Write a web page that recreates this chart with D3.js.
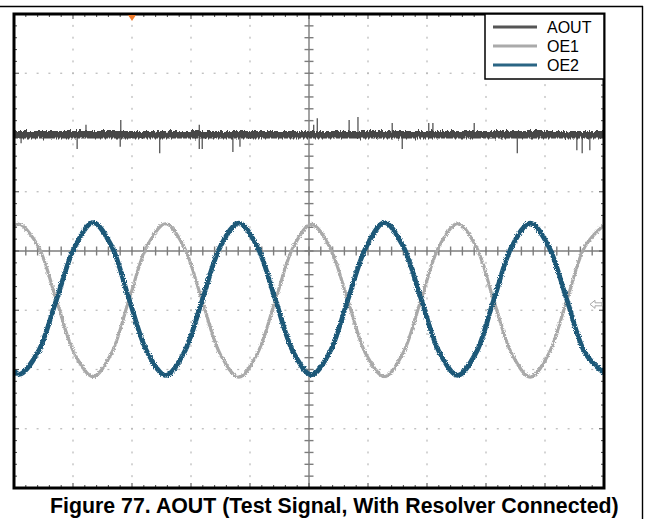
<!DOCTYPE html>
<html>
<head>
<meta charset="utf-8">
<script src="https://cdn.jsdelivr.net/npm/d3@7/dist/d3.min.js"></script>
<style>
  html, body { margin: 0; padding: 0; background: #fff; }
  svg { display: block; }
</style>
</head>
<body>
<svg id="chart" width="648" height="519"></svg>
<script>
// Screen units are scope divisions: 10 horizontal, 8 vertical (centre = 0).
const xDivisions = [0, 1, 2, 3, 4, 5, 6, 7, 8, 9, 10];
const yDivisions = [-4, -3, -2, -1, 0, 1, 2, 3, 4];

// Sample times (div) for the two resolver excitation outputs
const sampleTime = [0.00, 0.10, 0.41, 0.72, 1.03, 1.34, 1.65, 1.95, 2.26, 2.57, 2.88,
  3.19, 3.50, 3.81, 4.12, 4.43, 4.74, 5.04, 5.35, 5.66, 5.97, 6.28, 6.59, 6.90,
  7.21, 7.52, 7.83, 8.13, 8.44, 8.75, 9.06, 9.37, 9.68, 10.00];

const oe1 = [0.42, 0.45, 0.08, -0.83, -1.74, -2.12, -1.73, -0.82, 0.09, 0.46, 0.07,
  -0.84, -1.75, -2.13, -1.74, -0.83, 0.08, 0.45, 0.07, -0.84, -1.75, -2.12, -1.73,
  -0.82, 0.09, 0.46, 0.08, -0.83, -1.74, -2.13, -1.74, -0.83, 0.08, 0.44];

const oe2 = [-2.02, -2.08, -1.70, -0.82, 0.07, 0.48, 0.09, -0.81, -1.71, -2.10, -1.72,
  -0.83, 0.08, 0.47, 0.08, -0.82, -1.72, -2.09, -1.71, -0.82, 0.07, 0.48, 0.09,
  -0.81, -1.71, -2.10, -1.72, -0.83, 0.08, 0.47, 0.08, -0.82, -1.72, -2.06];

// AOUT: flat test level with glitch spikes
const aoutTime = [0, 10];
const aoutLevel = [1.96, 1.96];
const spikeUpTime = [1.22, 1.81, 3.14, 5.08, 5.14, 5.68, 5.83, 6.41, 7.03, 7.10, 7.80];
const spikeUpValue = [2.13, 2.21, 2.13, 2.13, 2.24, 2.21, 2.26, 2.16, 2.16, 2.16, 2.16];
const spikeDownTime = [0.12, 1.07, 1.80, 2.47, 3.14, 3.19, 3.71, 3.83, 6.58, 8.53, 9.54, 9.63, 9.76];
const spikeDownValue = [1.82, 1.72, 1.76, 1.65, 1.72, 1.72, 1.67, 1.76, 1.72, 1.65, 1.70, 1.65, 1.70];

const seriesNames = ["AOUT", "OE1", "OE2"];
const seriesColors = ["#474747", "#a9a9a9", "#1d5878"];
const legendColors = ["#555555", "#aaaaaa", "#2a6584"];
const titleText = "Figure 77. AOUT (Test Signal, With Resolver Connected)";

const svg = d3.select("#chart");
const x = d3.scaleLinear().domain([0, 10]).range([14, 604]);
const y = d3.scaleLinear().domain([-4, 4]).range([488, 14]);

// outer page frame
svg.append("line").attr("x1", 0).attr("x2", 643).attr("y1", 6.5).attr("y2", 6.5)
  .attr("stroke", "#000").attr("stroke-width", 1.4);
svg.append("line").attr("x1", 642.5).attr("x2", 642.5).attr("y1", 6).attr("y2", 519)
  .attr("stroke", "#000").attr("stroke-width", 1.4);

// rough-edge filters for the noisy traces (user-space region so flat lines still render)
const defs = svg.append("defs");
function noiseFilter(id, freq, scale, seed) {
  const f = defs.append("filter").attr("id", id).attr("filterUnits", "userSpaceOnUse")
    .attr("x", 0).attr("y", 0).attr("width", 648).attr("height", 519);
  f.append("feTurbulence").attr("type", "fractalNoise").attr("baseFrequency", freq)
    .attr("numOctaves", 2).attr("seed", seed).attr("result", "n");
  f.append("feDisplacementMap").attr("in", "SourceGraphic").attr("in2", "n")
    .attr("scale", scale).attr("xChannelSelector", "R").attr("yChannelSelector", "G");
}
noiseFilter("noisy", "0.9", 3.4, 3);
noiseFilter("noisyBand", "0.6 0.05", 6, 7);

const plot = svg.append("g");
const clip = defs.append("clipPath").attr("id", "plotClip");
clip.append("rect").attr("x", x(0)).attr("y", y(4)).attr("width", x(10) - x(0)).attr("height", y(-4) - y(4));

// dotted graticule
const minor = d3.range(0, 50).map(i => i / 5);
const minorY = d3.range(0, 40).map(i => -4 + i / 5);
const grid = plot.append("g").attr("fill", "#b8b8b8");
xDivisions.filter(d => d > 0 && d < 10 && d !== 5).forEach(d => {
  minorY.forEach(v => {
    grid.append("rect").attr("x", x(d) - 0.6).attr("y", y(v) - 1).attr("width", 1.2).attr("height", 2);
  });
});
yDivisions.filter(d => d > -4 && d < 4 && d !== 0).forEach(d => {
  minor.forEach(v => {
    grid.append("rect").attr("x", x(v) - 1).attr("y", y(d) - 0.6).attr("width", 2).attr("height", 1.2);
  });
});

// centre axes with minor ticks
const axisCol = "#7d7d7d";
const ax = plot.append("g").attr("stroke", axisCol).attr("stroke-width", 1.4);
ax.append("line").attr("x1", x(0)).attr("x2", x(10)).attr("y1", y(0)).attr("y2", y(0));
ax.append("line").attr("x1", x(5)).attr("x2", x(5)).attr("y1", y(4)).attr("y2", y(-4));
minor.forEach(v => {
  ax.append("line").attr("x1", x(v)).attr("x2", x(v)).attr("y1", y(0) - 4.5).attr("y2", y(0) + 4.5);
});
minorY.forEach(v => {
  ax.append("line").attr("x1", x(5) - 4.5).attr("x2", x(5) + 4.5).attr("y1", y(v)).attr("y2", y(v));
});

// border ticks
const isMajor = v => Math.abs(v - Math.round(v)) < 1e-6;
const bt = plot.append("g").attr("stroke", "#555").attr("stroke-width", 1.1);
minor.forEach(v => {
  const len = isMajor(v) ? 5 : 3;
  bt.append("line").attr("x1", x(v)).attr("x2", x(v)).attr("y1", y(4)).attr("y2", y(4) + len);
  bt.append("line").attr("x1", x(v)).attr("x2", x(v)).attr("y1", y(-4)).attr("y2", y(-4) - len);
});
minorY.forEach(v => {
  const len = isMajor(v) ? 5 : 3;
  bt.append("line").attr("x1", x(0)).attr("x2", x(0) + len).attr("y1", y(v)).attr("y2", y(v));
  bt.append("line").attr("x1", x(10)).attr("x2", x(10) - len).attr("y1", y(v)).attr("y2", y(v));
});

// traces
const traces = plot.append("g").attr("clip-path", "url(#plotClip)");
const line = d3.line().curve(d3.curveCatmullRom.alpha(0.5));

// AOUT band and glitches
traces.append("path")
  .attr("d", d3.line()(aoutTime.map((t, i) => [x(t), y(aoutLevel[i])])))
  .attr("stroke", seriesColors[0]).attr("stroke-width", 7.5).attr("fill", "none")
  .attr("filter", "url(#noisyBand)");
const spikes = traces.append("g").attr("stroke", seriesColors[0]).attr("stroke-width", 1.2);
spikeUpTime.forEach((t, i) => {
  spikes.append("line").attr("x1", x(t)).attr("x2", x(t)).attr("y1", y(aoutLevel[0])).attr("y2", y(spikeUpValue[i]));
});
spikeDownTime.forEach((t, i) => {
  spikes.append("line").attr("x1", x(t)).attr("x2", x(t)).attr("y1", y(aoutLevel[0])).attr("y2", y(spikeDownValue[i]));
});

traces.append("path")
  .attr("d", line(sampleTime.map((t, i) => [x(t), y(oe1[i])])))
  .attr("stroke", seriesColors[1]).attr("stroke-width", 3.2).attr("fill", "none")
  .attr("filter", "url(#noisy)");
traces.append("path")
  .attr("d", line(sampleTime.map((t, i) => [x(t), y(oe2[i])])))
  .attr("stroke", seriesColors[2]).attr("stroke-width", 4.8).attr("fill", "none")
  .attr("filter", "url(#noisy)");

// plot border
plot.append("rect").attr("x", x(0)).attr("y", y(4)).attr("width", x(10) - x(0)).attr("height", y(-4) - y(4))
  .attr("fill", "none").attr("stroke", "#000").attr("stroke-width", 3);

// trigger position marker
plot.append("path")
  .attr("d", `M${x(2) - 4},${y(4) + 1} L${x(2) + 4},${y(4) + 1} L${x(2)},${y(4) + 7} Z`)
  .attr("fill", "#ef7b2c");

// channel reference marker on the right edge
plot.append("path")
  .attr("d", `M${x(10) - 14},${y(-0.9)} l5,-4 v2.5 h7 v3 h-7 v2.5 Z`)
  .attr("fill", "none").attr("stroke", "#a8a8a8").attr("stroke-width", 1);

// legend
const lg = svg.append("g");
lg.append("rect").attr("x", 485).attr("y", y(4)).attr("width", x(10) - 485).attr("height", 65)
  .attr("fill", "#fff").attr("stroke", "#000").attr("stroke-width", 1.5);
seriesNames.forEach((name, i) => {
  const yy = 27 + i * 19;
  lg.append("line").attr("x1", 493).attr("x2", 537).attr("y1", yy).attr("y2", yy)
    .attr("stroke", legendColors[i]).attr("stroke-width", 3);
  lg.append("text").attr("x", 547).attr("y", yy + 5.8).text(name)
    .attr("font-family", "Liberation Sans, Arial, sans-serif").attr("font-size", 16).attr("fill", "#000");
});

// caption
const cap = svg.append("text").attr("x", 50).attr("y", 513).text(titleText)
  .attr("font-family", "Liberation Sans, Arial, sans-serif").attr("font-weight", "bold")
  .attr("font-size", 20).attr("fill", "#000");
const w = cap.node().getComputedTextLength();
cap.attr("font-size", 20 * 569 / w);
</script>
</body>
</html>
